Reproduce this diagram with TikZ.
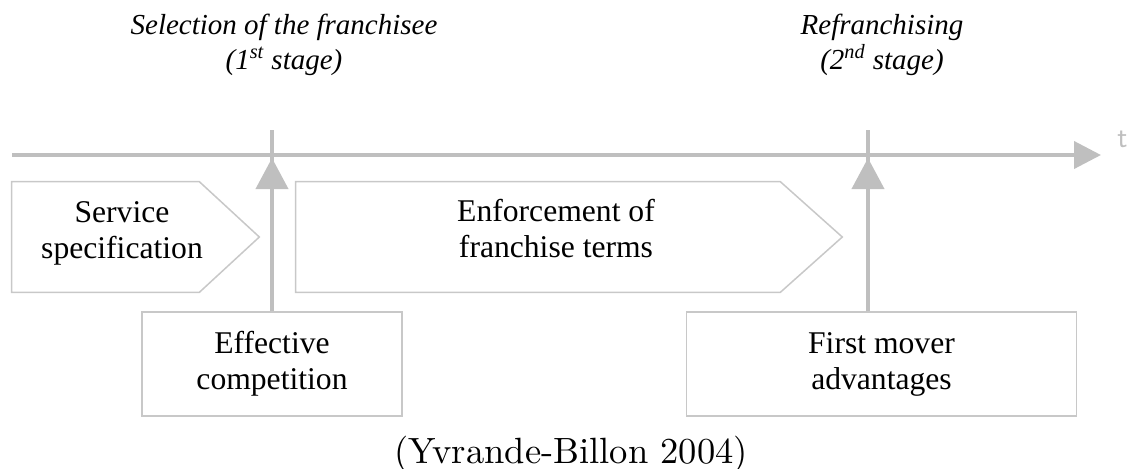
\documentclass[tikz,border=0pt]{standalone}
\usepackage{fontspec}
\usetikzlibrary{arrows.meta}
\newfontfamily\timesfont{Liberation Serif}
\newfontfamily\capfont{lmroman10-regular}[Extension=.otf]
\definecolor{linegray}{HTML}{BFBFBF}
\definecolor{boxgray}{HTML}{C8C8C8}
\begin{document}
\begin{tikzpicture}[x=0.02cm, y=-0.02cm,
        txt/.style = {align=center, font=\timesfont\fontsize{18}{20.5}\selectfont},
        box/.style = {txt, draw=boxgray, line width=0.03cm, minimum height=2.08cm},
        outline/.style = {draw=boxgray, line width=0.03cm},
        stage/.style = {align=center, font=\timesfont\itshape\fontsize{16.5}{20}\selectfont},
        bar/.style = {linegray, line width=0.08cm},
        tip/.style = {-{Triangle[length=0.62cm, width=0.64cm]}}]
        \useasboundingbox (0,0) rectangle (1130,468);
        \coordinate (t0) at (12,155);
        \coordinate (t1) at (1101,155);
        \coordinate (top1) at (272,130);
        \coordinate (top2) at (868,130);
        \coordinate (hit1) at (272,158);
        \coordinate (hit2) at (868,158);
        \node[stage] (sel) at (284,45) {Selection of the franchisee\\(1\textsuperscript{st} stage)};
        \node[stage] (refr) at (882,45) {Refranchising\\(2\textsuperscript{nd} stage)};
        \node[anchor=base west, inner sep=0pt, text=linegray, font=\sffamily\fontsize{17}{20}\selectfont] (tlab) at (1117,147) {t};
        \node[minimum width=4.94cm, minimum height=2.2cm] (spec) at (135.5,237) {};
        \node[minimum width=10.92cm, minimum height=2.2cm] (enf) at (569,237) {};
        \draw[outline] (spec.north west) -- ([xshift=-1.2cm]spec.north east) -- (spec.east) -- ([xshift=-1.2cm]spec.south east) -- (spec.south west) -- cycle;
        \draw[outline] (enf.north west) -- ([xshift=-1.24cm]enf.north east) -- (enf.east) -- ([xshift=-1.24cm]enf.south east) -- (enf.south west) -- cycle;
        \node[txt] (spectxt) at (122,233) {Service\\specification};
        \node[txt] (enftxt) at (556,229) {Enforcement of\\franchise terms};
        \node[box, minimum width=5.2cm] (eff) at (272,364) {Effective\\competition};
        \node[box, minimum width=7.8cm] (mover) at (881.5,364) {First mover\\advantages};
        \draw[bar, -{Triangle[length=0.54cm, width=0.54cm]}] (t0) -- (t1);
        \draw[bar] (eff.north) -- (top1);
        \draw[bar, tip] (eff.north) -- (hit1);
        \draw[bar] (mover.north -| top2) -- (top2);
        \draw[bar, tip] (mover.north -| top2) -- (hit2);
        \node[anchor=base, font=\capfont\fontsize{20.8}{25}\selectfont] (src) at (571,463) {(Yvrande-Billon 2004)};
\end{tikzpicture}
\end{document}
